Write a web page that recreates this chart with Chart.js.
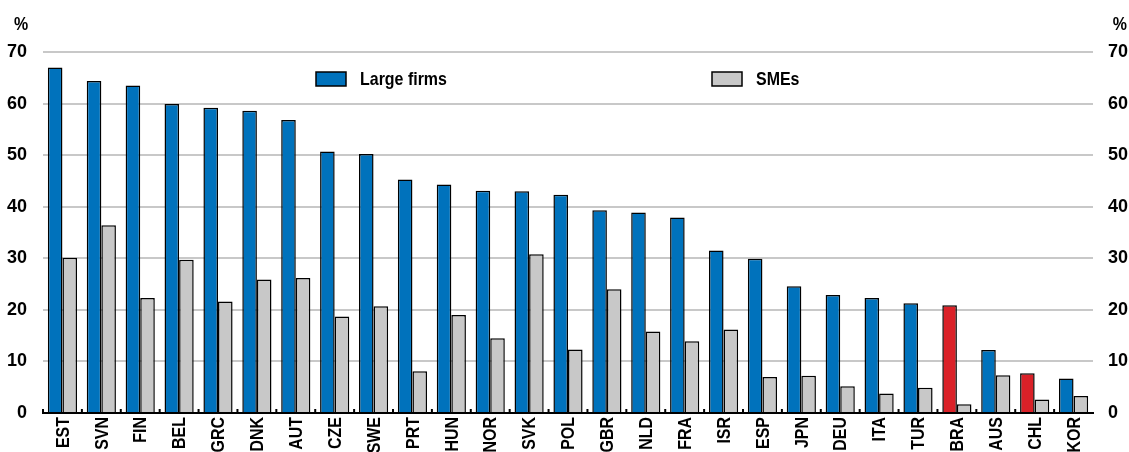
<!DOCTYPE html>
<html>
<head>
<meta charset="utf-8">
<script src="https://cdn.jsdelivr.net/npm/chart.js@4.4.1/dist/chart.umd.min.js"></script>
<style>
  html, body { margin: 0; padding: 0; background: #fff; }
  #wrap { width: 1129px; height: 452px; position: relative; }
</style>
</head>
<body>
<div id="wrap"><canvas id="barChart"></canvas></div>
<script>
var categories = ['EST', 'SVN', 'FIN', 'BEL', 'GRC', 'DNK', 'AUT', 'CZE', 'SWE', 'PRT', 'HUN', 'NOR', 'SVK', 'POL',
    'GBR', 'NLD', 'FRA', 'ISR', 'ESP', 'JPN', 'DEU', 'ITA', 'TUR', 'BRA', 'AUS', 'CHL', 'KOR'];
var largeFirms = [67.0, 64.4, 63.5, 59.9, 59.2, 58.6, 56.8, 50.7, 50.2, 45.3, 44.3, 43.1, 43.0, 42.3,
    39.3, 38.9, 37.9, 31.5, 29.9, 24.6, 22.9, 22.3, 21.3, 20.9, 12.2, 7.7, 6.7];
var smes = [30.1, 36.4, 22.3, 29.7, 21.6, 25.9, 26.2, 18.7, 20.7, 8.1, 19.0, 14.5, 30.8, 12.3,
    24.0, 15.8, 13.9, 16.2, 7.0, 7.2, 5.2, 3.8, 4.9, 1.7, 7.3, 2.6, 3.3];
var highlighted = ['BRA', 'CHL'];
var yMin = 0, yMax = 70, yStep = 10;

var blue = 'rgb(0, 114, 188)';
var red = 'rgb(218, 33, 40)';
var grey = 'rgb(200, 200, 200)';
var font = "'Liberation Sans', Arial, sans-serif";
var narrow = 0.84; // source uses a condensed face

var largeColors = categories.map(function (c) {
    return highlighted.indexOf(c) >= 0 ? red : blue;
});

// condensed text helper
function narrowText(c, txt, x, y, align) {
    c.save();
    c.translate(x, y);
    c.scale(narrow, 1);
    c.textAlign = align;
    c.fillText(txt, 0, 0);
    c.restore();
}

// x labels, legend, % labels and the small category ticks
var extras = {
    id: 'extras',
    afterDraw: function (chart) {
        var c = chart.ctx;
        var xs = chart.scales.x, yl = chart.scales.y;
        c.save();
        c.fillStyle = '#000';
        c.textBaseline = 'middle';
        c.font = 'bold 19px ' + font;
        narrowText(c, '%', 14, 25, 'left');
        narrowText(c, '%', 1127, 25, 'right');

        // ticks between categories
        var w = (xs.right - xs.left) / categories.length;
        for (var i = 0; i < categories.length; i++) {
            c.fillRect(xs.left + i * w - 1, yl.bottom - 4, 2, 4);
        }

        // rotated category labels, placed on the x scale
        c.font = 'bold 19px ' + font;
        categories.forEach(function (lab, i) {
            c.save();
            c.translate(xs.getPixelForValue(i) + 1, yl.bottom + 4);
            c.rotate(-Math.PI / 2);
            c.scale(narrow, 1);
            c.textAlign = 'right';
            c.fillText(lab, 0, 0);
            c.restore();
        });

        // legend
        var items = [
            { label: 'Large firms', color: blue, x: 316 },
            { label: 'SMEs', color: grey, x: 712 }
        ];
        var ly = 79;
        c.font = 'bold 19px ' + font;
        items.forEach(function (it) {
            c.fillStyle = it.color;
            c.fillRect(it.x, ly - 7, 30, 14);
            c.strokeStyle = '#000';
            c.lineWidth = 1.5;
            c.strokeRect(it.x, ly - 7, 30, 14);
            c.fillStyle = '#000';
            narrowText(c, it.label, it.x + 44, ly + 1, 'left');
        });
        c.restore();
    }
};

var ctx = document.getElementById('barChart').getContext('2d');
var myChart = new Chart(ctx, {
    type: 'bar',
    data: {
        labels: categories,
        datasets: [
            {
                label: 'Large firms',
                data: largeFirms,
                backgroundColor: largeColors,
                borderColor: '#000',
                borderWidth: 1.5
            },
            {
                label: 'SMEs',
                data: smes,
                backgroundColor: grey,
                borderColor: '#000',
                borderWidth: 1.5
            }
        ]
    },
    options: {
        responsive: true,
        maintainAspectRatio: false,
        animation: false,
        datasets: {
            bar: { categoryPercentage: 0.75, barPercentage: 1.0 }
        },
        layout: { padding: { top: 52, left: 0, right: 0, bottom: 0 } },
        plugins: {
            legend: { display: false },
            title: { display: false },
            tooltip: { enabled: false }
        },
        scales: {
            x: {
                offset: true,
                grid: { display: false, drawTicks: false },
                border: { display: true, color: '#000', width: 2 },
                ticks: { display: false },
                afterFit: function (s) { s.height = 39; }
            },
            y: {
                position: 'left',
                min: yMin, max: yMax,
                grid: { color: grey, lineWidth: 2, drawTicks: false },
                border: { display: false },
                ticks: {
                    stepSize: yStep,
                    color: '#000',
                    font: { family: font, size: 18, weight: 'bold' },
                    padding: 16
                },
                afterFit: function (s) { s.width = 43; }
            },
            y2: {
                position: 'right',
                min: yMin, max: yMax,
                grid: { display: false, drawTicks: false },
                border: { display: false },
                ticks: {
                    stepSize: yStep,
                    color: '#000',
                    font: { family: font, size: 18, weight: 'bold' },
                    padding: 15
                },
                afterFit: function (s) { s.width = 36; }
            }
        }
    },
    plugins: [extras]
});
</script>
</body>
</html>
